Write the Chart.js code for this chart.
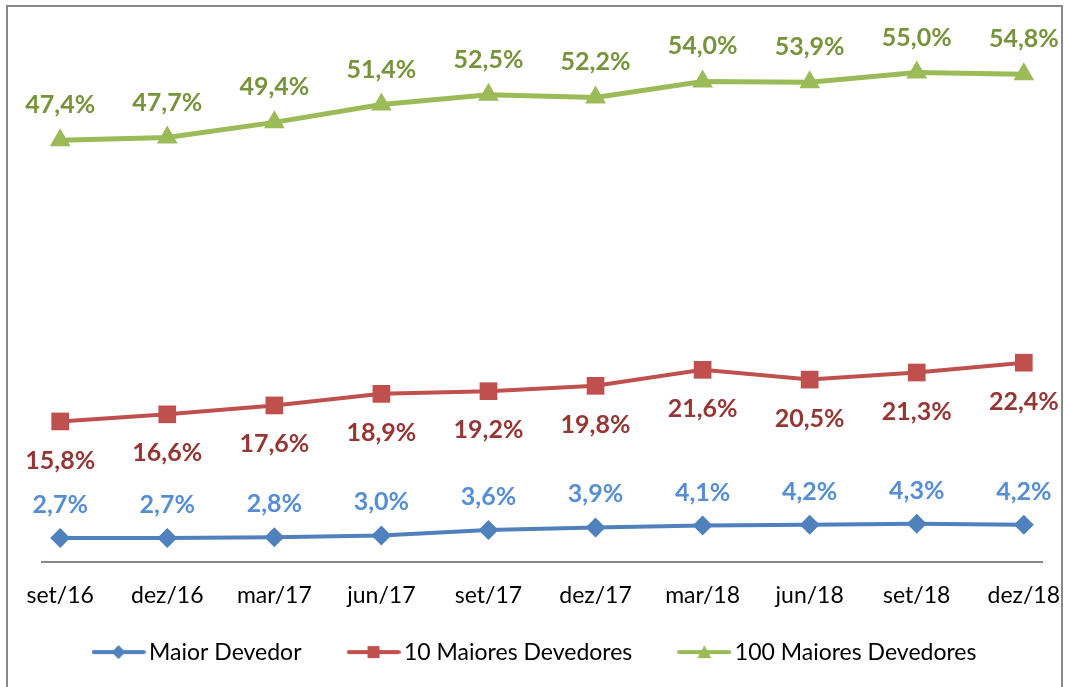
<!DOCTYPE html>
<html>
<head>
<meta charset="utf-8">
<script src="https://cdn.jsdelivr.net/npm/chart.js@4"></script>
<style>
    html, body { margin: 0; padding: 0; background: #fff; }
    #grafico-wrap { width: 1065px; height: 687px; position: relative; }
</style>
</head>
<body>
<div id="grafico-wrap"><canvas id="grafico-devedores"></canvas></div>
<script>
const rotulos = ['set/16', 'dez/16', 'mar/17', 'jun/17', 'set/17', 'dez/17', 'mar/18', 'jun/18', 'set/18', 'dez/18'];
const maiorDevedor = [2.7, 2.7, 2.8, 3.0, 3.6, 3.9, 4.1, 4.2, 4.3, 4.2];
const dezMaiores = [15.8, 16.6, 17.6, 18.9, 19.2, 19.8, 21.6, 20.5, 21.3, 22.4];
const cemMaiores = [47.4, 47.7, 49.4, 51.4, 52.5, 52.2, 54.0, 53.9, 55.0, 54.8];

const fonte = 'Lato';

// icone da legenda: linha com marcador no meio
function iconeLegenda(cor, forma) {
    const c = document.createElement('canvas');
    c.width = 54;
    c.height = 18;
    const g = c.getContext('2d');
    g.strokeStyle = cor;
    g.lineWidth = 4;
    g.lineCap = 'round';
    g.beginPath();
    g.moveTo(2, 9);
    g.lineTo(52, 9);
    g.stroke();
    g.fillStyle = cor;
    g.beginPath();
    if (forma === 'losango') {
        g.moveTo(27, 2); g.lineTo(34, 9); g.lineTo(27, 16); g.lineTo(20, 9);
    } else if (forma === 'quadrado') {
        g.rect(21, 3, 12, 12);
    } else {
        g.moveTo(27, 2); g.lineTo(34, 15); g.lineTo(20, 15);
    }
    g.closePath();
    g.fill();
    return c;
}

function pontos(valores) {
    return valores.map((v, i) => ({ x: i, y: v }));
}

const series = [
    { label: 'Maior Devedor', valores: maiorDevedor, cor: '#4F81BD', corTexto: '#558ED5', estilo: 'rectRot', raio: 10, largura: 4, desloc: -33, forma: 'losango' },
    { label: '10 Maiores Devedores', valores: dezMaiores, cor: '#C0504D', corTexto: '#963634', estilo: 'rect', raio: 12.5, largura: 4, desloc: 39, forma: 'quadrado' },
    { label: '100 Maiores Devedores', valores: cemMaiores, cor: '#9BBB59', corTexto: '#77933C', estilo: 'triangle', raio: 12, largura: 5, desloc: -35, forma: 'triangulo' }
];

const moldura = {
    id: 'moldura',
    beforeDraw(chart) {
        const ctx = chart.ctx;
        ctx.save();
        ctx.fillStyle = '#fff';
        ctx.fillRect(0, 0, chart.width, chart.height);
        ctx.strokeStyle = '#898989';
        ctx.lineWidth = 2;
        ctx.strokeRect(7, 6, 1055, 720);
        ctx.restore();
    }
};

// sobe a legenda para perto dos rótulos do eixo
const ajusteLegenda = {
    id: 'ajusteLegenda',
    afterLayout(chart) {
        const l = chart.legend;
        if (l) {
            l.top -= 21;
            l.bottom -= 21;
        }
    }
};

const rotulosDados = {
    id: 'rotulosDados',
    afterDatasetsDraw(chart) {
        const ctx = chart.ctx;
        ctx.save();
        ctx.font = 'bold 25px ' + fonte;
        ctx.textAlign = 'center';
        ctx.textBaseline = 'middle';
        chart.data.datasets.forEach((ds, i) => {
            const meta = chart.getDatasetMeta(i);
            ctx.fillStyle = series[i].corTexto;
            meta.data.forEach((pt, j) => {
                const txt = ds.data[j].y.toFixed(1).replace('.', ',') + '%';
                ctx.fillText(txt, pt.x, pt.y + series[i].desloc);
            });
        });
        ctx.restore();
    }
};

const ctx = document.getElementById('grafico-devedores').getContext('2d');
new Chart(ctx, {
    type: 'line',
    data: {
        datasets: series.map(s => ({
            label: s.label,
            data: pontos(s.valores),
            borderColor: s.cor,
            backgroundColor: s.cor,
            borderWidth: s.largura,
            pointStyle: s.estilo,
            pointRadius: s.raio,
            pointHoverRadius: s.raio,
            pointBackgroundColor: s.cor,
            pointBorderWidth: 0,
            tension: 0,
            icone: iconeLegenda(s.cor, s.forma)
        }))
    },
    options: {
        responsive: true,
        maintainAspectRatio: false,
        animation: false,
        layout: { padding: { left: 34, right: 23, top: 28, bottom: -7.6 } },
        scales: {
            x: {
                type: 'linear',
                min: -0.17,
                max: 9.17,
                afterBuildTicks: axis => { axis.ticks = rotulos.map((r, i) => ({ value: i })); },
                afterFit: axis => { axis.height = 46.5; axis.paddingLeft = 0; axis.paddingRight = 0; },
                grid: { display: false, drawTicks: false },
                border: { display: true, color: '#868686', width: 2 },
                ticks: {
                    autoSkip: false,
                    maxRotation: 0,
                    padding: 20,
                    color: '#000',
                    font: { family: fonte, size: 23 },
                    callback: v => rotulos[v]
                }
            },
            y: {
                display: true,
                min: 0,
                max: 60,
                afterFit: axis => { axis.width = 8; },
                grid: { display: false },
                border: { display: false },
                ticks: { display: false }
            }
        },
        plugins: {
            legend: {
                position: 'bottom',
                labels: {
                    usePointStyle: true,
                    pointStyleWidth: 38,
                    padding: 53,
                    color: '#000',
                    font: { family: fonte, size: 23 },
                    generateLabels: chart => chart.data.datasets.map((ds, i) => ({
                        text: ds.label,
                        pointStyle: ds.icone,
                        fillStyle: ds.borderColor,
                        strokeStyle: ds.borderColor,
                        lineWidth: 0,
                        datasetIndex: i
                    }))
                }
            },
            tooltip: { enabled: false }
        }
    },
    plugins: [moldura, ajusteLegenda, rotulosDados]
});
</script>
</body>
</html>
